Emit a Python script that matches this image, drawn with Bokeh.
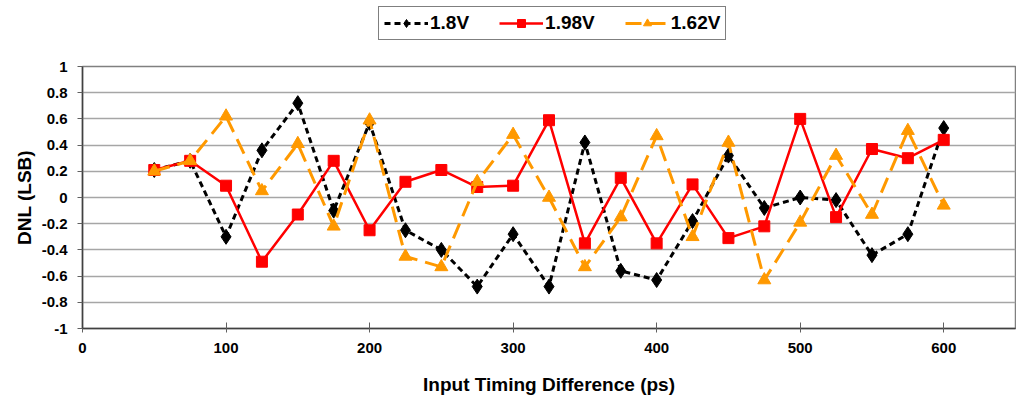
from bokeh.plotting import figure
from bokeh.layouts import column
from bokeh.models import Range1d, FixedTicker, CustomJSTickFormatter, Legend, LegendItem
from bokeh.embed import file_html
from bokeh.resources import INLINE

# ---- data ----
timing_ps = [50, 75, 100, 125, 150, 175, 200, 225, 250, 275, 300, 325,
             350, 375, 400, 425, 450, 475, 500, 525, 550, 575, 600]

dnl_180 = [0.21, 0.28, -0.30, 0.36, 0.72, -0.10, 0.57, -0.25, -0.40, -0.68, -0.28, -0.68,
           0.42, -0.56, -0.63, -0.18, 0.32, -0.08, 0.00, -0.02, -0.44, -0.28, 0.53]

dnl_198 = [0.21, 0.28, 0.09, -0.49, -0.13, 0.28, -0.25, 0.12, 0.21, 0.08, 0.09, 0.59,
           -0.35, 0.15, -0.35, 0.10, -0.31, -0.22, 0.60, -0.15, 0.37, 0.30, 0.44]

dnl_162 = [0.20, 0.28, 0.62, 0.05, 0.41, -0.22, 0.59, -0.45, -0.53, 0.12, 0.48, 0.00,
           -0.53, -0.15, 0.47, -0.30, 0.42, -0.63, -0.19, 0.32, -0.13, 0.51, -0.06]

series_names = ["1.8V", "1.98V", "1.62V"]

x_ticks = [0, 100, 200, 300, 400, 500, 600]
y_ticks = [-1, -0.8, -0.6, -0.4, -0.2, 0, 0.2, 0.4, 0.6, 0.8, 1]

FONT = "Liberation Sans"

# style per series: (line colour, width, dash, marker, marker size)
styles = [
    ("black", 3, "6 4", "diamond", 15),
    ("#ff0000", 2.5, "solid", "square", 11),
    ("#ff9900", 3, "16 8", "triangle", 13),
]

p = figure(width=1016, height=352,
           x_range=Range1d(0, 650), y_range=Range1d(-1, 1),
           output_backend="svg", toolbar_location=None,
           min_border_left=82, min_border_right=1,
           min_border_top=18, min_border_bottom=72)

p.background_fill_color = "white"
p.outline_line_color = "#808080"
p.outline_line_width = 1.5

# grid
p.xgrid.grid_line_color = None
p.ygrid.ticker = FixedTicker(ticks=y_ticks)
p.ygrid.grid_line_color = "#a6a6a6"
p.ygrid.grid_line_width = 1.5

# axes
p.xaxis.ticker = FixedTicker(ticks=x_ticks)
p.yaxis.ticker = FixedTicker(ticks=y_ticks)
p.yaxis.formatter = CustomJSTickFormatter(code="return Number(tick.toFixed(1)).toString();")
for ax in (p.xaxis[0], p.yaxis[0]):
    ax.axis_line_color = "#404040"
    ax.axis_line_width = 1.5
    ax.major_tick_line_color = "#606060"
    ax.minor_tick_line_color = None
    ax.major_label_text_font = FONT
    ax.major_label_text_font_style = "bold"
    ax.major_label_text_font_size = "15px"
    ax.major_label_text_color = "black"
    ax.axis_label_text_font = FONT
    ax.axis_label_text_font_style = "bold"
    ax.axis_label_text_font_size = "19px"
    ax.axis_label_text_color = "black"

p.xaxis.major_tick_in = 6
p.xaxis.major_tick_out = 4
p.xaxis.major_label_standoff = 10
p.xaxis.axis_label = "Input Timing Difference (ps)"
p.xaxis.axis_label_standoff = 18

p.yaxis.major_tick_in = 0
p.yaxis.major_tick_out = 5
p.yaxis.major_label_standoff = 10
p.yaxis.axis_label = "DNL (LSB)"
p.yaxis.axis_label_standoff = 4

for ys, (col, lw, dash, mk, ms) in zip([dnl_180, dnl_198, dnl_162], styles):
    p.line(timing_ps, ys, line_color=col, line_width=lw, line_dash=dash)
    p.scatter(timing_ps, ys, marker=mk, size=ms, color=col)

# ---- legend strip on top (separate small figure, so nothing gets clipped) ----
# the column aligns frames, so this frame starts at the same x as the main one
lf = figure(width=1016, height=48, x_range=Range1d(0, 1), y_range=Range1d(0, 1),
            output_backend="svg", toolbar_location=None,
            min_border=0, outline_line_color=None)
lf.axis.visible = False
lf.grid.visible = False

items = []
for name, (col, lw, dash, mk, ms) in zip(series_names, styles):
    # proxy glyphs placed outside the visible range, only used for the legend
    r_line = lf.line([-5, -4], [-5, -4], line_color=col, line_width=lw, line_dash=dash)
    r_mark = lf.scatter([-5], [-5], marker=mk, size=ms, color=col)
    items.append(LegendItem(label=name, renderers=[r_line, r_mark]))

legend = Legend(items=items, orientation="horizontal", location=(296, 8))
legend.label_text_font = FONT
legend.label_text_font_style = "bold"
legend.label_text_font_size = "19px"
legend.label_text_color = "black"
legend.border_line_color = "black"
legend.border_line_width = 1
legend.glyph_width = 44
legend.spacing = 30
legend.padding = 5
legend.margin = 0
legend.label_standoff = 2
lf.add_layout(legend)

layout = column(lf, p, spacing=0)

open("out.html", "w").write(file_html(layout, INLINE))
